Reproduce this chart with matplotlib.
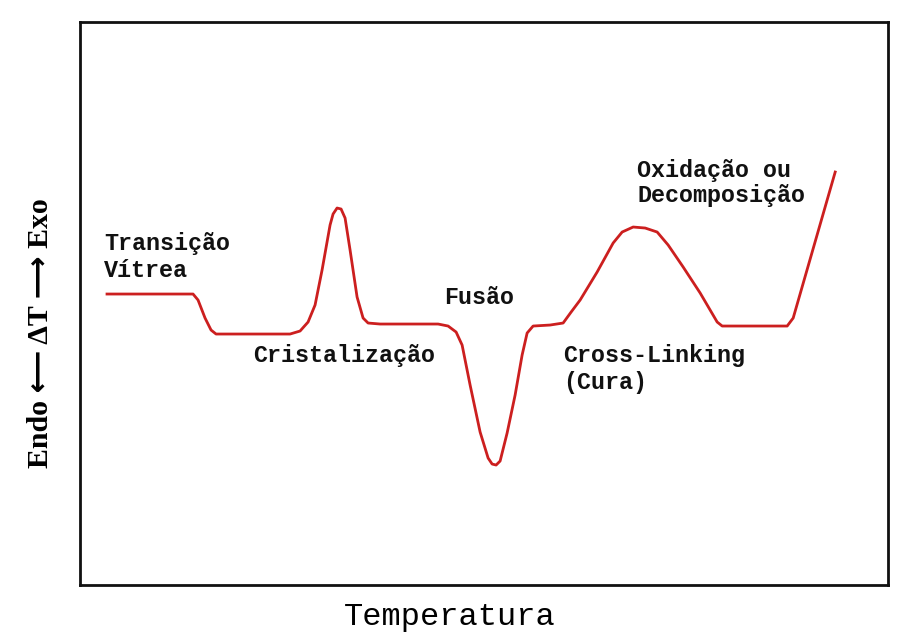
import matplotlib
matplotlib.use("Agg")
from matplotlib import pyplot as plt

# DSC schematic curve (arbitrary units)
temperature = [27, 113, 118, 125, 131, 136, 210, 220, 228, 235, 242, 250, 253, 257, 261, 265, 270,
               277, 283, 288, 300, 358, 368, 376, 382, 390, 400, 408, 412, 416, 420, 427, 435, 442,
               447, 453, 470, 483, 491, 500, 517, 533, 542, 553, 565, 577, 588, 603, 620, 637,
               642, 707, 713, 755]
heat_flow = [291, 291, 285, 267, 255, 251, 251, 254, 263, 280, 315, 360, 371, 377, 376, 367, 335,
             288, 267, 262, 261, 261, 259, 253, 240, 200, 153, 127, 121, 120, 124, 152, 190, 230,
             252, 259, 260, 262, 273, 285, 313, 342, 353, 358, 357, 353, 340, 318, 292, 263,
             259, 259, 267, 413]

# annotations: (text, x, y)
labels = [
    ("Transição", 24, 342),
    ("Vítrea", 24, 315),
    ("Cristalização", 173, 230),
    ("Fusão", 364, 288),
    ("Cross-Linking", 483, 230),
    ("(Cura)", 483, 203),
    ("Oxidação ou", 557, 415),
    ("Decomposição", 557, 390),
]

fig = plt.figure(figsize=(8.99, 6.38), dpi=100)
ax = fig.add_axes([0.089, 0.083, 0.899, 0.8825])

ax.plot(temperature, heat_flow, color='#cc1f1f', linewidth=2)

for txt, x, y in labels:
    ax.text(x, y, txt, family='Liberation Mono', fontweight='bold', fontsize=16.8,
            ha='left', va='center', color='#111111')

ax.set_xlim(0, 808)
ax.set_ylim(0, 563)
ax.set_xticks([])
ax.set_yticks([])
for s in ax.spines.values():
    s.set_linewidth(2)
    s.set_color('#111111')

fig.text(0.045, 0.478, "Endo ⟵ ΔT ⟶ Exo", rotation=90, ha='center', va='center',
         family=['Liberation Serif', 'DejaVu Sans'], fontweight='bold', fontsize=21.5)
fig.text(0.5, 0.033, "Temperatura", ha='center', va='center',
         family='Liberation Mono', fontsize=23)

plt.savefig('out.png')
